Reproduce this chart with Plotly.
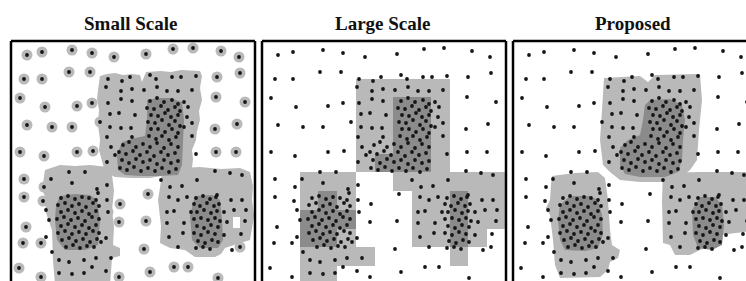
import plotly.graph_objects as go

# ---------------- data (panel-local pixel coordinates, y downward) ----------------
titles = ["Small Scale", "Large Scale", "Proposed"]

sparse_pts = [(16,14),(31,11),(61,9),(81,12),(103,16),(135,13),(162,8),(182,7),(210,10),(228,16),
              (13,38),(31,38),(58,31),(79,31),(206,36),(229,32),
              (9,57),(34,66),(66,65),(81,62),(205,56),(234,61),
              (16,84),(41,86),(61,86),(89,81),(204,88),(226,83),
              (9,111),(33,115),(66,111),(82,110),(205,111),(225,111),
              (13,138),(33,146),(13,156),(32,160),(15,186),(12,202),(30,202),(8,227),(30,236),
              (96,144),(109,163),(96,159),(97,171),(108,181),(95,197),(135,180),(137,153),
              (133,208),(139,231),(108,236),(163,226),(177,226),(207,237),(229,206),(230,193),
              (234,180),(235,169)]

mid_pts = [(97,38),(111,40),(119,36),(139,34),(145,38),(161,36),(170,36),(185,35),
           (95,46),(110,50),(121,48),(133,49),(146,46),(156,50),(167,50),(181,49),
           (97,62),(110,58),(121,60),(173,61),(177,66),(99,73),(108,72),(124,74),(176,76),
           (99,86),(110,87),(120,87),(173,86),(181,82),(96,96),(121,96),(181,95),
           (100,106),(96,121),(104,114),(185,113),
           (231,134),(219,132),(204,130),(186,139),(171,145),(159,146),(150,139),(158,156),
           (167,159),(176,156),(206,154),(220,159),(231,159),(156,171),(163,170),(180,171),
           (213,171),(223,169),(156,182),(173,182),(216,181),(158,196),(172,192),(213,194),
           (167,206),(221,209),
           (58,131),(74,131),(40,138),(61,142),(86,148),(87,152),(35,169),(38,179),(35,196),
           (90,201),(41,211),(48,219),(58,221),(73,219),(85,217),(100,217),(81,226),(95,230),
           (48,232),(61,233),(73,232)]

dense_pts = [# upper cluster (boot)
             (139,60),(146,57),(153,61),(161,59),(167,63),(136,67),(143,68),(150,65),(157,69),
             (164,66),(169,70),(140,74),(147,75),(154,72),(160,76),(167,74),(137,81),(144,82),
             (151,79),(158,84),(164,80),(169,85),(140,88),(147,88),(154,91),(161,88),(167,92),
             (138,95),(145,98),(151,95),(158,99),(165,96),
             (112,104),(118,101),(125,106),(132,103),(139,106),(146,102),(153,107),(160,103),
             (167,106),(108,111),(115,113),(122,110),(129,114),(136,111),(143,115),(150,111),
             (157,114),(164,112),(111,119),(118,122),(125,118),(132,121),(139,119),(146,123),
             (153,119),(160,122),(167,120),(109,127),(116,129),(123,126),(130,130),(137,127),
             (144,130),(151,127),(158,131),(165,128),
             # lower-left cluster
             (50,157),(57,155),(64,158),(71,156),(78,157),(85,159),(47,164),(54,162),(61,165),
             (68,163),(75,166),(82,162),(88,165),(50,171),(57,169),(64,172),(71,170),(78,173),
             (85,170),(46,178),(53,176),(60,179),(67,177),(74,180),(81,176),(88,178),(50,185),
             (57,183),(64,186),(71,184),(78,187),(85,184),(47,192),(54,190),(61,193),(68,191),
             (75,193),(82,190),(88,192),(51,199),(58,197),(65,200),(72,198),(79,201),(86,198),
             (55,206),(62,204),(69,207),(76,205),(83,206),
             # lower-right cluster
             (185,157),(192,155),(199,158),(205,156),(183,163),(189,165),(196,162),(203,165),
             (208,163),(186,171),(193,169),(200,172),(206,170),(183,178),(190,177),(197,179),
             (204,177),(209,180),(186,185),(193,187),(200,184),(207,186),(183,192),(190,194),
             (197,191),(204,193),(187,200),(194,202),(201,199),(207,201),(185,207),(192,206),
             (199,208)]

# Small Scale regions (polygons)
small_light = [
    [(89,35),(96,33),(104,32),(112,34),(121,33),(129,34),(131,41),(135,31),(150,30),(160,31),
     (170,29),(189,30),(191,35),(189,47),(191,59),(188,70),(189,79),(186,90),(185,99),(181,109),
     (182,118),(181,127),(174,131),(154,134),(139,137),(120,137),(104,136),(94,131),(91,119),
     (88,109),(89,99),(87,84),(88,69),(86,58),(87,49)],
    [(34,129),(49,124),(64,125),(79,124),(97,126),(101,134),(103,150),(101,169),(103,186),
     (102,204),(109,207),(109,215),(101,217),(99,244),(44,244),(42,219),(41,189),(34,169),
     (36,159),(31,149)],
    [(151,129),(170,127),(189,126),(210,128),(229,127),(239,131),(242,145),(241,159),(243,175),
     (239,199),(229,202),(214,207),(210,213),(204,216),(184,216),(174,209),(159,207),(149,202),
     (150,185),(147,159),(150,140)]]
small_dark = [
    [(136,59),(148,57),(159,57),(171,61),(173,79),(172,104),(171,124),(167,134),(149,135),
     (130,135),(114,134),(107,129),(106,114),(111,101),(124,97),(134,95),(136,79)],
    [(49,155),(64,153),(79,154),(86,159),(89,179),(87,204),(74,209),(54,209),(46,199),(44,179),
     (45,164)],
    [(184,155),(201,154),(209,159),(211,179),(212,199),(207,207),(189,207),(181,199),(179,174)]]
small_hole = [(222,176),(229,176),(229,187),(222,187)]

# Large Scale grid (13 x 13 blocks; 0 = none, 1 = light, 2 = dark)
large_grid = [
    [0,0,0,0,0,0,0,0,0,0,0,0,0],
    [0,0,0,0,0,0,0,0,0,0,0,0,0],
    [0,0,0,0,0,1,1,1,1,1,0,0,0],
    [0,0,0,0,0,1,1,2,2,1,0,0,0],
    [0,0,0,0,0,1,1,2,2,1,0,0,0],
    [0,0,0,0,0,1,1,2,2,1,0,0,0],
    [0,0,0,0,0,1,2,2,2,1,0,0,0],
    [0,0,1,1,1,0,0,1,1,1,1,1,1],
    [0,0,1,2,1,0,0,0,1,1,2,1,1],
    [0,0,2,2,2,0,0,0,1,1,2,1,1],
    [0,0,2,2,1,0,0,0,1,1,2,1,0],
    [0,0,1,1,1,1,0,0,0,0,1,0,0],
    [0,0,1,1,0,0,0,0,0,0,0,0,0]]
block = 18.75

# Proposed regions
prop_light = [
    [(91,37),(127,35),(135,41),(142,34),(187,33),(189,59),(186,89),(184,119),(177,129),
     (167,137),(152,141),(127,141),(107,139),(97,131),(90,124),(87,99),(89,69)],
    [(39,135),(62,132),(85,131),(92,137),(95,159),(97,189),(99,204),(107,209),(105,217),
     (97,221),(95,229),(87,236),(47,237),(42,224),(40,199),(37,174),(33,167),(37,159),(38,144)],
    [(150,132),(187,131),(233,131),(247,134),(247,189),(207,194),(202,204),(187,209),
     (177,214),(162,214),(157,204),(150,202),(149,159)]]
prop_dark = [
    [(137,59),(157,58),(169,64),(172,79),(170,99),(169,119),(165,131),(152,136),(127,136),
     (112,133),(107,124),(107,107),(115,99),(127,94),(130,79),(132,64)],
    [(57,155),(77,155),(85,159),(89,174),(90,194),(85,207),(72,210),(52,209),(47,199),
     (45,179),(47,164)],
    [(187,156),(202,156),(209,164),(211,184),(209,204),(199,209),(185,207),(180,194),(179,169)]]

# ---------------- figure ----------------
W, H = 746, 281
LIGHT = "#b9b9b9"
DARK = "#8b8b8b"
TOP = 41
panels = [(11, 255, 244), (262, 506, 244), (513, 746, 233)]  # left px, right px, local range

fig = go.Figure()

def poly(pts, color, k):
    xs = [p[0] for p in pts] + [pts[0][0]]
    ys = [p[1] for p in pts] + [pts[0][1]]
    fig.add_trace(go.Scatter(x=xs, y=ys, mode="lines", fill="toself", fillcolor=color,
                             line=dict(width=0, color=color), hoverinfo="skip",
                             showlegend=False, xaxis=f"x{k}", yaxis=f"y{k}"))

def unzip(pts):
    return [p[0] for p in pts], [p[1] for p in pts]

# panel 1: halos around sparse points, then regions
sx, sy = unzip(sparse_pts)
fig.add_trace(go.Scatter(x=sx, y=sy, mode="markers", marker=dict(size=11, color=LIGHT, symbol="circle"),
                         hoverinfo="skip", showlegend=False, xaxis="x1", yaxis="y1"))
for p in small_light:
    poly(p, LIGHT, 1)
poly(small_hole, "white", 1)
for p in small_dark:
    poly(p, DARK, 1)

# panel 2: grid heatmap
fig.add_trace(go.Heatmap(z=large_grid, x0=block/2, dx=block, y0=block/2, dy=block,
                         zmin=0, zmax=2, showscale=False, hoverinfo="skip",
                         colorscale=[[0, "white"], [0.5, LIGHT], [1, DARK]],
                         xaxis="x2", yaxis="y2"))

# panel 3: regions
for p in prop_light:
    poly(p, LIGHT, 3)
for p in prop_dark:
    poly(p, DARK, 3)

# points in every panel
mx, my = unzip(mid_pts)
dx_, dy_ = unzip(dense_pts)
allx = sx + mx + dx_
ally = sy + my + dy_
for k in (1, 2, 3):
    fig.add_trace(go.Scatter(x=allx, y=ally, mode="markers",
                             marker=dict(size=3.8, color="#151515", line=dict(width=0)),
                             hoverinfo="skip", showlegend=False, xaxis=f"x{k}", yaxis=f"y{k}"))

ytop = 1 - TOP / H
layout = dict(width=W, height=H, margin=dict(l=0, r=0, t=0, b=0),
              paper_bgcolor="white", plot_bgcolor="white", showlegend=False)
shapes = []
annotations = []
for i, (l, r, rng) in enumerate(panels):
    k = i + 1
    sfx = "" if k == 1 else str(k)
    layout[f"xaxis{sfx}"] = dict(domain=[l / W, r / W], range=[0, rng], visible=False,
                                 anchor=f"y{k}" if k > 1 else "y", fixedrange=True)
    layout[f"yaxis{sfx}"] = dict(domain=[0, ytop], range=[240, 0], visible=False,
                                 anchor=f"x{k}" if k > 1 else "x", fixedrange=True)
    xr = f"x{sfx} domain"
    yr = f"y{sfx} domain"
    ln = dict(color="black", width=2.5)
    shapes.append(dict(type="line", xref=xr, yref=yr, x0=0, x1=0, y0=0, y1=1, line=ln))
    shapes.append(dict(type="line", xref=xr, yref=yr, x0=0, x1=1, y0=1, y1=1, line=ln))
    if k < 3:
        shapes.append(dict(type="line", xref=xr, yref=yr, x0=1, x1=1, y0=0, y1=1, line=ln))
    cx = [130, 383, 633][i]
    annotations.append(dict(text=f"<b>{titles[i]}</b>", x=cx / W, y=1 - 24 / H, xref="paper",
                            yref="paper", showarrow=False, xanchor="center", yanchor="middle",
                            font=dict(family="Liberation Serif", size=19, color="#111")))
layout["shapes"] = shapes
layout["annotations"] = annotations
fig.update_layout(**layout)

fig.write_html("out.html", config={"displayModeBar": False},
               post_script="document.body.style.margin='0';")
